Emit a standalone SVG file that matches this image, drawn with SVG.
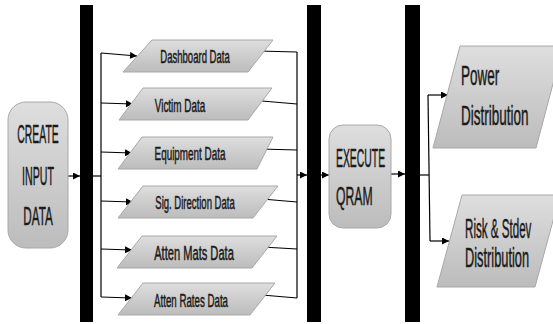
<svg xmlns="http://www.w3.org/2000/svg" width="553" height="324" viewBox="0 0 553 324">
  <defs>
    <linearGradient id="shade" x1="0" y1="0" x2="0" y2="1">
      <stop offset="0" stop-color="#dedede"/>
      <stop offset="1" stop-color="#bcbcbc"/>
    </linearGradient>
    <marker id="tip" viewBox="0 0 10 10" refX="10" refY="5" markerWidth="7" markerHeight="7" markerUnits="userSpaceOnUse" orient="auto">
      <path d="M0,0 L10,5 L0,10 z" fill="#000"/>
    </marker>
  </defs>
  <style>
    .shape { fill: url(#shade); stroke: #a8a8a8; stroke-width: 1; }
    .bar { fill: #000; }
    .lbl { font-family: "Liberation Sans", Arial, sans-serif; fill: #1a1a1a; stroke: #1a1a1a; stroke-width: 0.5; }
    .mid { text-anchor: middle; }
    .big { font-size: 26px; }
    .out { font-size: 27px; }
    .small { font-size: 18px; }
    .wire { fill: none; stroke: #000; stroke-width: 1.2; }
    .arrow { fill: none; stroke: #000; stroke-width: 1.2; marker-end: url(#tip); }
  </style>
  <rect width="553" height="324" fill="#fff"/>

  <!-- synchronisation bars -->
  <g id="bars">
    <rect class="bar" x="80" y="5" width="13" height="317"/>
    <rect class="bar" x="307" y="5" width="14" height="317"/>
    <rect class="bar" x="405" y="5" width="15" height="317"/>
  </g>

  <!-- connectors -->
  <g id="connectors">
    <line class="arrow" x1="68" y1="176" x2="80" y2="176"/>
    <line class="wire" x1="93" y1="176" x2="101" y2="176"/>
    <line class="wire" x1="101" y1="53" x2="101" y2="297"/>
    <line class="arrow" x1="101" y1="53" x2="137" y2="56"/>
    <line class="arrow" x1="101" y1="103" x2="133" y2="104"/>
    <line class="arrow" x1="101" y1="152" x2="132" y2="153"/>
    <line class="arrow" x1="101" y1="201" x2="133" y2="202"/>
    <line class="arrow" x1="101" y1="249" x2="132" y2="250"/>
    <line class="arrow" x1="101" y1="297" x2="132" y2="298"/>

    <line class="wire" x1="258" y1="51" x2="297" y2="52"/>
    <line class="wire" x1="262" y1="101" x2="297" y2="104"/>
    <line class="wire" x1="260" y1="149" x2="297" y2="150"/>
    <line class="wire" x1="262" y1="199" x2="297" y2="202"/>
    <line class="wire" x1="262" y1="247" x2="297" y2="249"/>
    <line class="wire" x1="262" y1="295" x2="297" y2="298"/>
    <line class="wire" x1="297" y1="52" x2="297" y2="298"/>
    <line class="arrow" x1="297" y1="175" x2="307" y2="175"/>

    <line class="arrow" x1="321" y1="175" x2="329" y2="175"/>
    <line class="arrow" x1="391" y1="174" x2="405" y2="174"/>

    <line class="wire" x1="420" y1="175" x2="429" y2="175"/>
    <line class="wire" x1="428" y1="95" x2="430" y2="241"/>
    <line class="arrow" x1="428" y1="95" x2="448" y2="95"/>
    <line class="arrow" x1="430" y1="241" x2="449" y2="241"/>
  </g>

  <!-- process boxes -->
  <g id="create-input-data">
    <rect class="shape" x="8" y="102" width="60" height="146" rx="18" ry="18"/>
    <text class="lbl big mid" transform="translate(38,143) scale(0.40,1)">CREATE</text>
    <text class="lbl big mid" transform="translate(38,185) scale(0.41,1)">INPUT</text>
    <text class="lbl big mid" transform="translate(38,225) scale(0.45,1)">DATA</text>
  </g>

  <g id="execute-qram">
    <rect class="shape" x="329" y="125" width="62" height="103" rx="14" ry="14"/>
    <text class="lbl big" transform="translate(336,167) scale(0.40,1)">EXECUTE</text>
    <text class="lbl big" transform="translate(336,205) scale(0.47,1)">QRAM</text>
  </g>

  <!-- data items -->
  <g id="dashboard-data">
    <polygon class="shape" points="152,40 273,40 248,72 123,72"/>
    <text class="lbl small mid" transform="translate(195,63) scale(0.53,1)">Dashboard Data</text>
  </g>
  <g id="victim-data">
    <polygon class="shape" points="143,88 272,88 248,120 119,120"/>
    <text class="lbl small mid" transform="translate(180,112) scale(0.55,1)">Victim Data</text>
  </g>
  <g id="equipment-data">
    <polygon class="shape" points="142,137 273,137 257,169 118,169"/>
    <text class="lbl small mid" transform="translate(190,160) scale(0.55,1)">Equipment Data</text>
  </g>
  <g id="sig-direction-data">
    <polygon class="shape" points="143,186 278,186 253,218 118,218"/>
    <text class="lbl small mid" transform="translate(195,209) scale(0.53,1)">Sig. Direction Data</text>
  </g>
  <g id="atten-mats-data">
    <polygon class="shape" points="142,236 277,236 252,268 117,268"/>
    <text class="lbl mid" font-size="20" transform="translate(194,260) scale(0.556,1)">Atten Mats Data</text>
  </g>
  <g id="atten-rates-data">
    <polygon class="shape" points="143,283 275,283 250,315 118,315"/>
    <text class="lbl small mid" transform="translate(191,307) scale(0.54,1)">Atten Rates Data</text>
  </g>

  <!-- outputs -->
  <g id="power-distribution">
    <polygon class="shape" points="460,46 563,46 536,148 433,148"/>
    <text class="lbl out" transform="translate(461,85) scale(0.50,1)">Power</text>
    <text class="lbl out" transform="translate(461,125) scale(0.50,1)">Distribution</text>
  </g>
  <g id="risk-stdev-distribution">
    <polygon class="shape" points="462,195 560,195 535,287 437,287"/>
    <text class="lbl out" transform="translate(465,238) scale(0.43,1)">Risk &amp; Stdev</text>
    <text class="lbl out" transform="translate(465,267) scale(0.475,1)">Distribution</text>
  </g>
</svg>
